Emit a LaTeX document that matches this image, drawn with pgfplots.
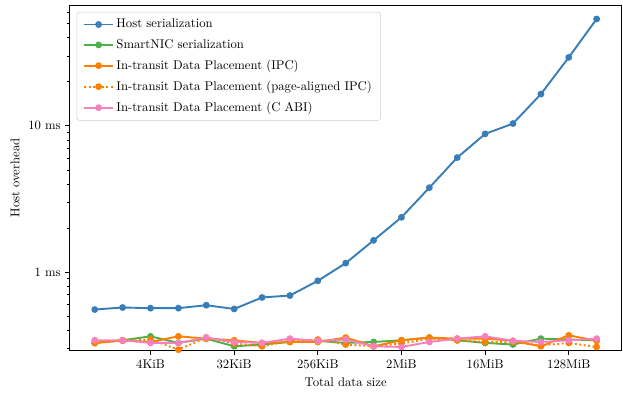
\documentclass[border=0pt]{standalone}
\usepackage{pgfplots}
\pgfplotsset{compat=1.18}
\definecolor{cblue}{HTML}{377EB8}
\definecolor{corange}{HTML}{FF7F00}
\definecolor{cgreen}{HTML}{4DAF4A}
\definecolor{cpink}{HTML}{F781BF}
\begin{document}
\begin{tikzpicture}
\begin{axis}[
  scale only axis, width=436pt, height=273pt,
  ymode=log, xmin=9.1, xmax=28.9, ymin=0.29, ymax=67,
  xtick={12,15,18,21,24,27},
  xticklabels={4KiB,32KiB,256KiB,2MiB,16MiB,128MiB},
  ytick={1,10}, yticklabels={1 ms,10 ms},
  minor ytick={0.3,0.4,0.5,0.6,0.7,0.8,0.9,2,3,4,5,6,7,8,9,20,30,40,50,60},
  tick align=outside, tick pos=left,
  major tick length=3.5pt, minor tick length=2pt,
  tick style={black, line width=0.6pt},
  axis line style={line width=0.6pt},
  xlabel={Total data size}, ylabel={Host overhead},
  legend cell align=left,
  legend style={at={(0.0127,0.98)}, anchor=north west, draw=black!20, rounded corners=2pt,
    fill=white, fill opacity=0.8, text opacity=1, font=\normalsize, row sep=3.6pt, inner xsep=5pt, inner ysep=3.5pt},
  legend image code/.code={\draw[mark repeat=2,mark phase=2,#1] plot coordinates {(0cm,0cm)(0.4cm,0cm)(0.8cm,0cm)};},
  every axis plot/.append style={line width=1.5pt, mark=*, mark size=1.9pt},
]
\addplot[cblue, mark options={solid}] coordinates {(10,0.555)(11,0.573)(12,0.567)(13,0.567)(14,0.594)(15,0.560)(16,0.671)(17,0.692)(18,0.872)(19,1.152)(20,1.649)(21,2.37)(22,3.78)(23,6.07)(24,8.81)(25,10.37)(26,16.49)(27,29.4)(28,53.8)};
\addlegendentry{Host serialization}
\addplot[cgreen, mark options={solid}] coordinates {(10,0.328)(11,0.342)(12,0.364)(13,0.328)(14,0.351)(15,0.311)(16,0.320)(17,0.333)(18,0.339)(19,0.328)(20,0.333)(21,0.342)(22,0.357)(23,0.342)(24,0.328)(25,0.320)(26,0.351)(27,0.346)(28,0.342)};
\addlegendentry{SmartNIC serialization}
\addplot[corange, mark options={solid}] coordinates {(10,0.328)(11,0.342)(12,0.333)(13,0.364)(14,0.351)(15,0.342)(16,0.328)(17,0.333)(18,0.333)(19,0.357)(20,0.311)(21,0.342)(22,0.357)(23,0.351)(24,0.351)(25,0.339)(26,0.311)(27,0.370)(28,0.339)};
\addlegendentry{In-transit Data Placement (IPC)}
\addplot[corange, dotted, mark options={solid}] coordinates {(10,0.328)(11,0.339)(12,0.346)(13,0.295)(14,0.357)(15,0.325)(16,0.311)(17,0.339)(18,0.346)(19,0.320)(20,0.311)(21,0.325)(22,0.351)(23,0.342)(24,0.333)(25,0.333)(26,0.315)(27,0.328)(28,0.308)};
\addlegendentry{In-transit Data Placement (page-aligned IPC)}
\addplot[cpink, mark options={solid}] coordinates {(10,0.342)(11,0.342)(12,0.328)(13,0.328)(14,0.357)(15,0.333)(16,0.328)(17,0.351)(18,0.339)(19,0.346)(20,0.311)(21,0.308)(22,0.333)(23,0.351)(24,0.364)(25,0.339)(26,0.333)(27,0.342)(28,0.351)};
\addlegendentry{In-transit Data Placement (C ABI)}
\end{axis}
\path ([shift={(-55pt,-35pt)}]current axis.south west) rectangle ([shift={(1pt,4pt)}]current axis.north east);
\end{tikzpicture}
\end{document}
